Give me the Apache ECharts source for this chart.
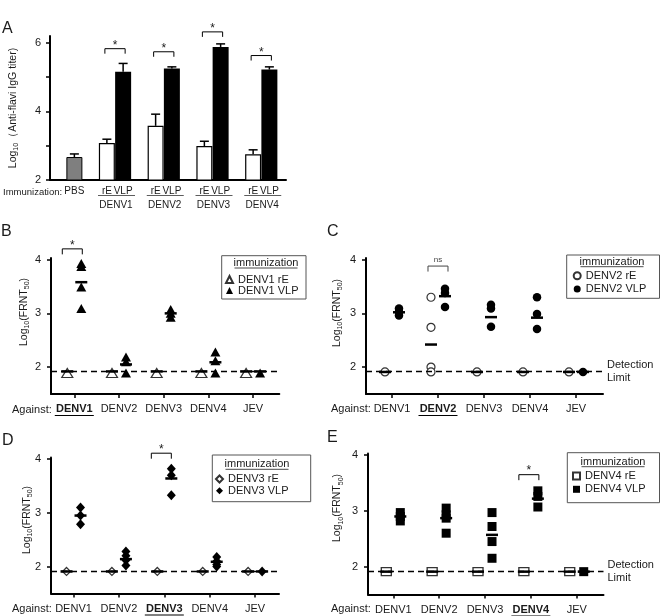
<!DOCTYPE html>
<html><head><meta charset="utf-8">
<script src="https://cdn.jsdelivr.net/npm/echarts@6/dist/echarts.min.js"></script>
<style>html,body{margin:0;padding:0;background:#fff}#c{width:660px;height:616px}</style>
</head><body><div id="c"></div>
<script>
const FONT = '"Liberation Sans", Arial, Helvetica, sans-serif';
const TXT = '#1a1a1a';

// ---------- Panel A data ----------
const aGroups = ['DENV1', 'DENV2', 'DENV3', 'DENV4'];
const aPBS = [2.67];
const aPBSErr = [2.76];
const aRE = [3.08, 3.58, 2.99, 2.75];
const aREErr = [3.19, 3.92, 3.13, 2.88];
const aVLP = [5.16, 5.25, 5.88, 5.22];
const aVLPErr = [5.40, 5.30, 5.97, 5.30];
const aSig = [5.83, 5.74, 6.32, 5.63];
const aYTicks = [2, 3, 4, 5, 6];
const aYLabels = [2, 4, 6];

// ---------- Panels B-E data ----------
const against = ['DENV1', 'DENV2', 'DENV3', 'DENV4', 'JEV'];
const frntTicks = [2, 3, 4];
const detectionLimit = 1.92;

const bRE = [[1.89], [1.89], [1.89], [1.89], [1.89]];
const bVLP = [[3.93, 3.87, 3.49, 3.09], [2.19, 2.10, 1.89], [3.07, 3.00, 2.93], [2.28, 2.12, 1.89], [1.89]];
const bREMean = [1.92, 1.92, 1.92, 1.92, 1.92];
const bVLPMean = [3.58, 2.05, 3.00, 2.09, 1.92];

const cRE = [[1.91], [3.30, 2.74, 2.00, 1.91], [1.91], [1.91], [1.91]];
const cVLP = [[3.09, 3.03, 2.96], [3.46, 3.38, 3.12], [3.16, 3.09, 2.75], [3.30, 2.99, 2.71], [1.91]];
const cREMean = [1.91, 2.42, 1.91, 1.91, 1.91];
const cVLPMean = [3.02, 3.32, 2.93, 2.92, 1.91];

const dRE = [[1.91], [1.91], [1.91], [1.91], [1.91]];
const dVLP = [[3.10, 2.95, 2.79], [2.28, 2.20, 2.12, 2.02], [3.82, 3.70, 3.33], [2.18, 2.10, 2.04, 2.00], [1.91]];
const dREMean = [1.91, 1.91, 1.91, 1.91, 1.91];
const dVLPMean = [2.95, 2.14, 3.64, 2.09, 1.91];

const eRE = [[1.91], [1.91], [1.91], [1.91], [1.91]];
const eVLP = [[2.97, 2.90, 2.82], [3.05, 2.93, 2.87, 2.60], [2.97, 2.72, 2.45, 2.15], [3.36, 3.26, 3.07], [1.91]];
const eREMean = [1.91, 1.91, 1.91, 1.91, 1.91];
const eVLPMean = [2.90, 2.87, 2.57, 3.22, 1.91];

const bSig = { cat: 0, y: 4.20, text: '*' };
const cSig = { cat: 1, y: 3.88, text: 'ns' };
const dSig = { cat: 2, y: 4.11, text: '*' };
const eSig = { cat: 3, y: 3.65, text: '*' };

// ---------- build ----------
const option = {
  animation: false,
  textStyle: { fontFamily: FONT },
  grid: [], xAxis: [], yAxis: [], series: [], legend: [], graphic: []
};

function ytitleRich(fs) {
  return {
    n: { fontSize: fs, fontFamily: FONT, fill: TXT, lineHeight: 14 },
    s: { fontSize: 7, fontFamily: FONT, fill: TXT, lineHeight: 8, verticalAlign: 'bottom' }
  };
}

// ----- Panel A -----
const slots = ['', 'PBS'];
const reSlot = [], vlpSlot = [];
aGroups.forEach(() => {
  slots.push('');
  reSlot.push(slots.length); slots.push('rE');
  vlpSlot.push(slots.length); slots.push('VLP');
});
option.grid.push({ left: 50, top: 36, width: 227.5, height: 144 });
option.grid.push({ left: 50, top: 36, width: 236, height: 144 });
option.xAxis.push({
  type: 'category', gridIndex: 0, data: slots,
  axisLine: { show: false }, axisTick: { show: false },
  axisLabel: { interval: 0, fontSize: 10, color: TXT, margin: 6 }
});
option.xAxis.push({
  type: 'value', gridIndex: 1, min: 0, max: 1,
  axisLine: { show: true, onZero: false, lineStyle: { color: '#000', width: 2 } },
  axisTick: { show: false }, axisLabel: { show: false }, splitLine: { show: false }
});
option.yAxis.push({
  type: 'value', gridIndex: 0, min: 2, max: 6.2,
  axisLine: { show: true, onZero: false, lineStyle: { color: '#000', width: 2 } },
  axisTick: { show: true, length: 4, customValues: aYTicks, lineStyle: { color: '#000', width: 1.5 } },
  axisLabel: { customValues: aYLabels, fontSize: 11, color: TXT, margin: 9 },
  splitLine: { show: false }
});
option.yAxis.push({ type: 'value', gridIndex: 1, min: 0, max: 1, show: false });

const barData = slots.map(() => '-');
barData[1] = { value: aPBS[0], itemStyle: { color: '#7f7f7f', borderColor: '#000', borderWidth: 1 } };
aGroups.forEach((g, i) => {
  barData[reSlot[i]] = { value: aRE[i], itemStyle: { color: '#fff', borderColor: '#000', borderWidth: 1.2 } };
  barData[vlpSlot[i]] = { value: aVLP[i], itemStyle: { color: '#000' } };
});
option.series.push({ type: 'bar', xAxisIndex: 0, yAxisIndex: 0, barWidth: 16, data: barData, silent: true });

const errData = [[1, aPBS[0], aPBSErr[0]]];
aGroups.forEach((g, i) => {
  errData.push([reSlot[i], aRE[i], aREErr[i]]);
  errData.push([vlpSlot[i], aVLP[i], aVLPErr[i]]);
});
option.series.push({
  type: 'custom', xAxisIndex: 0, yAxisIndex: 0, data: errData, silent: true, z: 3,
  renderItem: (params, api) => {
    const x = api.value(0);
    const p0 = api.coord([x, api.value(1)]), p1 = api.coord([x, api.value(2)]);
    return { type: 'group', children: [
      { type: 'line', shape: { x1: p0[0], y1: p0[1], x2: p1[0], y2: p1[1] }, style: { stroke: '#000', lineWidth: 1.5 } },
      { type: 'line', shape: { x1: p1[0] - 4.5, y1: p1[1], x2: p1[0] + 4.5, y2: p1[1] }, style: { stroke: '#000', lineWidth: 1.5 } }
    ] };
  }
});
// brackets A
option.series.push({
  type: 'custom', xAxisIndex: 0, yAxisIndex: 0, silent: true, z: 3,
  data: aGroups.map((g, i) => [reSlot[i], aSig[i], vlpSlot[i]]),
  renderItem: (params, api) => {
    const p1 = api.coord([api.value(0), api.value(1)]), p2 = api.coord([api.value(2), api.value(1)]);
    const x1 = p1[0] - 2, x2 = p2[0] + 2, y = p1[1];
    return { type: 'group', children: [
      { type: 'polyline', shape: { points: [[x1, y + 5], [x1, y], [x2, y], [x2, y + 5]] }, style: { stroke: '#000', lineWidth: 1, fill: null } },
      { type: 'text', x: (x1 + x2) / 2, y: y - 3, style: { text: '*', fontSize: 12, fontFamily: FONT, fill: TXT, align: 'center', verticalAlign: 'middle' } }
    ] };
  }
});
// group labels A
option.series.push({
  type: 'custom', xAxisIndex: 0, yAxisIndex: 0, silent: true, z: 3,
  data: aGroups.map((g, i) => [reSlot[i], 2, vlpSlot[i], i]),
  renderItem: (params, api) => {
    const p1 = api.coord([api.value(0), 2]), p2 = api.coord([api.value(2), 2]);
    const mid = (p1[0] + p2[0]) / 2, y = p1[1];
    return { type: 'group', children: [
      { type: 'line', shape: { x1: mid - 17, y1: y + 15.5, x2: mid + 20, y2: y + 15.5 }, style: { stroke: '#333', lineWidth: 0.8 } },
      { type: 'text', x: mid + 1, y: y + 25.5, style: { text: aGroups[api.value(3)], fontSize: 10, fontFamily: FONT, fill: TXT, align: 'center', verticalAlign: 'middle' } }
    ] };
  }
});
option.graphic.push({ type: 'text', x: 3, y: 192, style: { text: 'Immunization:', fontSize: 9.5, fontFamily: FONT, fill: TXT, align: 'left', verticalAlign: 'middle' } });
option.graphic.push({ type: 'text', x: 13, y: 108, rotation: Math.PI / 2,
  style: { text: '{n|Log}{s|10}{n|（Anti-flavi IgG titer)}', rich: ytitleRich(10.5), align: 'center', verticalAlign: 'middle' } });
option.graphic.push({ type: 'text', x: 2, y: 29, style: { text: 'A', fontSize: 16, fontFamily: FONT, fill: TXT, align: 'left', verticalAlign: 'middle' } });

// ----- Panels B-E -----
const catIdx = against.map((s, i) => i);
const panels = [
  { letter: 'B', letterPos: [1, 232], grid: { left: 51, top: 258, width: 228.3, height: 136 }, xr: [-0.521, 4.586], hi: 0, strain: 'DENV1',
    symbol: 'triangle', reSize: [11, 9], vlpSize: [10, 9], re: bRE, vlp: bVLP, reMean: bREMean, vlpMean: bVLPMean,
    sig: bSig, br: [-12, 8], dl: false,
    box: [221.7, 255.7, 84.3, 43.3], title: [266, 263], leg: { left: 225, top: 274, gap: 0 },
    ytitle: [24, 312], againstPos: [12, 410] },
  { letter: 'C', letterPos: [327, 232], grid: { left: 366, top: 258, width: 237, height: 136 }, xr: [-0.565, 4.587], hi: 1, strain: 'DENV2',
    symbol: 'circle', reSize: 8, vlpSize: 8.5, re: cRE, vlp: cVLP, reMean: cREMean, vlpMean: cVLPMean,
    sig: cSig, br: [-10, 10], dl: true,
    box: [566.7, 255, 92.8, 43.3], title: [612, 261.7], leg: { left: 572.7, top: 270.2, gap: 2.3 },
    ytitle: [337, 313], againstPos: [331, 408.5] },
  { letter: 'D', letterPos: [2, 441], grid: { left: 51, top: 457.5, width: 228, height: 136 }, xr: [-0.496, 4.526], hi: 2, strain: 'DENV3',
    symbol: 'diamond', reSize: [8, 8], vlpSize: [9, 10], re: dRE, vlp: dVLP, reMean: dREMean, vlpMean: dVLPMean,
    sig: dSig, br: [-13, 7], dl: false,
    box: [212.3, 455, 98.4, 46.7], title: [257, 464.3], leg: { left: 215, top: 473.5, gap: 0.7 },
    ytitle: [27, 520], againstPos: [12, 608.5] },
  { letter: 'E', letterPos: [327, 438], grid: { left: 368, top: 453.5, width: 235.5, height: 141 }, xr: [-0.552, 4.584], hi: 3, strain: 'DENV4',
    symbol: 'rect', reSize: [10, 8], vlpSize: [9, 9], re: eRE, vlp: eVLP, reMean: eREMean, vlpMean: eVLPMean,
    sig: eSig, br: [-12, 8], dl: true,
    box: [567.3, 452.7, 92.2, 50], title: [613, 461.7], leg: { left: 572, top: 470.5, gap: 2.3 },
    ytitle: [337.5, 508], againstPos: [331, 608.5] }
];

panels.forEach((p) => {
  const gi = option.grid.length;
  option.grid.push(p.grid);
  const xi = option.xAxis.length, yi = option.yAxis.length;
  option.xAxis.push({
    type: 'value', gridIndex: gi, min: p.xr[0], max: p.xr[1],
    axisLine: { show: true, onZero: false, lineStyle: { color: '#000', width: 2 } },
    axisTick: { show: true, length: 4, customValues: catIdx, lineStyle: { color: '#000', width: 1.5 } },
    axisLabel: { customValues: catIdx, fontSize: 11, color: TXT, margin: 9.5,
      formatter: (v) => (Math.round(v) === p.hi ? '{b|' + against[Math.round(v)] + '}' : against[Math.round(v)]),
      rich: { b: { fontWeight: 'bold', fontSize: 11, color: TXT, fontFamily: FONT } } },
    splitLine: { show: false }
  });
  option.yAxis.push({
    type: 'value', gridIndex: gi, min: 1.5, max: 4.03,
    axisLine: { show: true, onZero: false, lineStyle: { color: '#000', width: 2 } },
    axisTick: { show: true, length: 4, customValues: frntTicks, lineStyle: { color: '#000', width: 1.5 } },
    axisLabel: { customValues: frntTicks, fontSize: 11, color: TXT, margin: 10 },
    splitLine: { show: false }
  });
  const reName = p.strain + ' rE', vlpName = p.strain + ' VLP';
  const reData = [], vlpData = [];
  p.re.forEach((arr, c) => arr.forEach((v) => reData.push([c, v])));
  p.vlp.forEach((arr, c) => arr.forEach((v) => vlpData.push([c, v])));
  option.series.push({
    name: reName, type: 'scatter', xAxisIndex: xi, yAxisIndex: yi, data: reData,
    symbol: p.symbol, symbolSize: p.reSize, symbolOffset: [-7, 0], z: 3, silent: true,
    itemStyle: { color: '#fff', borderColor: '#333', borderWidth: 1.2, opacity: 1 }
  });
  option.series.push({
    name: vlpName, type: 'scatter', xAxisIndex: xi, yAxisIndex: yi, data: vlpData,
    symbol: p.symbol, symbolSize: p.vlpSize, symbolOffset: [7, 0], z: 3, silent: true,
    itemStyle: { color: '#000', opacity: 1 },
    markLine: {
      silent: true, symbol: ['none', 'none'], animation: false,
      lineStyle: { type: [6, 4], color: '#000', width: 1.3 },
      label: p.dl ? { show: true, position: 'end', formatter: 'Detection\nLimit', fontSize: 11, color: TXT, lineHeight: 13, distance: 4, align: 'left' } : { show: false },
      emphasis: { disabled: true },
      data: [{ yAxis: detectionLimit }]
    }
  });
  const meanSeries = (arr, off) => ({
    type: 'custom', xAxisIndex: xi, yAxisIndex: yi, silent: true, z: 4,
    data: arr.map((m, c) => [c, m]),
    renderItem: (params, api) => {
      const pt = api.coord([api.value(0), api.value(1)]);
      const x = pt[0] + off;
      return { type: 'line', shape: { x1: x - 6, y1: pt[1], x2: x + 6, y2: pt[1] }, style: { stroke: '#000', lineWidth: 2.5 } };
    }
  });
  option.series.push(meanSeries(p.reMean, -7));
  option.series.push(meanSeries(p.vlpMean, 7));
  option.series.push({
    type: 'custom', xAxisIndex: xi, yAxisIndex: yi, silent: true, z: 4,
    data: [[p.sig.cat, p.sig.y]],
    renderItem: (params, api) => {
      const pt = api.coord([api.value(0), api.value(1)]);
      const x1 = pt[0] + p.br[0], x2 = pt[0] + p.br[1], y = pt[1];
      const isNs = p.sig.text === 'ns';
      return { type: 'group', children: [
        { type: 'polyline', shape: { points: [[x1, y + 5.5], [x1, y], [x2, y], [x2, y + 5.5]] }, style: { stroke: isNs ? '#444' : '#000', lineWidth: 1, fill: null } },
        { type: 'text', x: (x1 + x2) / 2, y: isNs ? y - 6 : y - 3.5,
          style: { text: p.sig.text, fontSize: isNs ? 8 : 12, fontFamily: FONT, fill: isNs ? '#444' : TXT, align: 'center', verticalAlign: 'middle' } }
      ] };
    }
  });
  option.series.push({
    type: 'custom', xAxisIndex: xi, yAxisIndex: yi, silent: true, z: 4,
    data: [[p.hi, 1.5]],
    renderItem: (params, api) => {
      const pt = api.coord([api.value(0), api.value(1)]);
      return { type: 'line', shape: { x1: pt[0] - 19.5, y1: pt[1] + 21.5, x2: pt[0] + 19.5, y2: pt[1] + 21.5 }, style: { stroke: '#000', lineWidth: 1.2 } };
    }
  });
  option.legend.push({
    left: p.leg.left, top: p.leg.top, orient: 'vertical', padding: 0,
    itemWidth: 7, itemHeight: 7, itemGap: p.leg.gap, selectedMode: false,
    data: [reName, vlpName],
    textStyle: { fontSize: 11, color: TXT, lineHeight: 11, fontFamily: FONT }
  });
  option.graphic.push({ type: 'rect', shape: { x: p.box[0], y: p.box[1], width: p.box[2], height: p.box[3] },
    style: { fill: null, stroke: '#555', lineWidth: 1 }, silent: true });
  option.graphic.push({ type: 'text', x: p.title[0], y: p.title[1],
    style: { text: 'immunization', fontSize: 11, fontFamily: FONT, fill: TXT, align: 'center', verticalAlign: 'middle' } });
  option.graphic.push({ type: 'line', shape: { x1: p.title[0] - 31.5, y1: p.title[1] + 5, x2: p.title[0] + 31.5, y2: p.title[1] + 5 },
    style: { stroke: TXT, lineWidth: 0.8 } });
  option.graphic.push({ type: 'text', x: p.againstPos[0], y: p.againstPos[1],
    style: { text: 'Against:', fontSize: 11, fontFamily: FONT, fill: TXT, align: 'left', verticalAlign: 'middle' } });
  option.graphic.push({ type: 'text', x: p.ytitle[0], y: p.ytitle[1], rotation: Math.PI / 2,
    style: { text: '{n|Log}{s|10}{n|(FRNT}{s|50}{n|)}', rich: ytitleRich(10.5), align: 'center', verticalAlign: 'middle' } });
  option.graphic.push({ type: 'text', x: p.letterPos[0], y: p.letterPos[1],
    style: { text: p.letter, fontSize: 16, fontFamily: FONT, fill: TXT, align: 'left', verticalAlign: 'middle' } });
});

const chart = echarts.init(document.getElementById('c'), null, { renderer: 'canvas' });
chart.setOption(option);
</script></body></html>
